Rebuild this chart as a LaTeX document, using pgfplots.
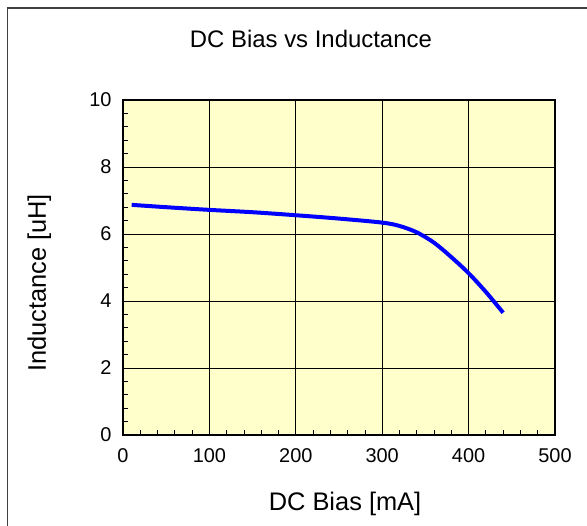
\documentclass[border=0pt]{standalone}
\usepackage{fontspec}
\setmainfont{Liberation Sans}
\usepackage{pgfplots}
\pgfplotsset{compat=1.18}
\definecolor{plotbg}{RGB}{255,255,204}
\definecolor{curveblue}{RGB}{0,0,255}
\definecolor{framegray}{RGB}{64,64,64}

\begin{document}
\begin{tikzpicture}
\path[use as bounding box] (0,0) rectangle (587bp,526bp);
% chart frame (only left and top edges visible)
\draw[framegray, line width=1.2bp] (7.5bp,0) -- (7.5bp,518bp) -- (587bp,518bp);

\begin{axis}[
    at={(123bp,91bp)}, anchor=south west,
    scale only axis,
    width=432bp, height=335bp,
    xmin=0, xmax=500, ymin=0, ymax=10,
    xtick={0,100,...,500},
    ytick={0,2,...,10},
    minor x tick num=4,
    minor y tick num=4,
    xtick pos=bottom, ytick pos=left,
    tick align=inside,
    major tick length=0pt,
    minor tick length=5bp,
    minor tick style={black, line width=0.8bp},
    grid=major,
    major grid style={black, line width=0.8bp},
    axis line style={black, line width=1.8bp},
    axis background/.style={fill=plotbg},
    /pgf/number format/assume math mode=true,
    tick label style={font=\fontsize{20}{22}\selectfont},
    yticklabel style={xshift=-8bp},
    xticklabel style={yshift=-10bp},
    title={DC Bias vs Inductance},
    title style={at={(axis description cs:0.435,1)}, anchor=base, yshift=47bp,
                 font=\fontsize{24}{28}\selectfont},
    xlabel={DC Bias [mA]},
    xlabel style={at={(axis description cs:0.514,0)}, anchor=base, yshift=-75bp,
                  font=\fontsize{25.5}{30}\selectfont},
    ylabel={Inductance [uH]},
    ylabel style={at={(axis description cs:-0.194,0.454)}, anchor=center, rotate=0,
                  font=\fontsize{25.5}{30}\selectfont},
]
\addplot[curveblue, line width=4bp, smooth] coordinates {
    (10,6.87) (50,6.80) (100,6.72) (150,6.65) (200,6.56) (250,6.46)
    (300,6.34) (320,6.24) (340,6.05) (360,5.74) (380,5.31) (400,4.83)
    (420,4.27) (440,3.65)
};
\end{axis}
\end{tikzpicture}
\end{document}
